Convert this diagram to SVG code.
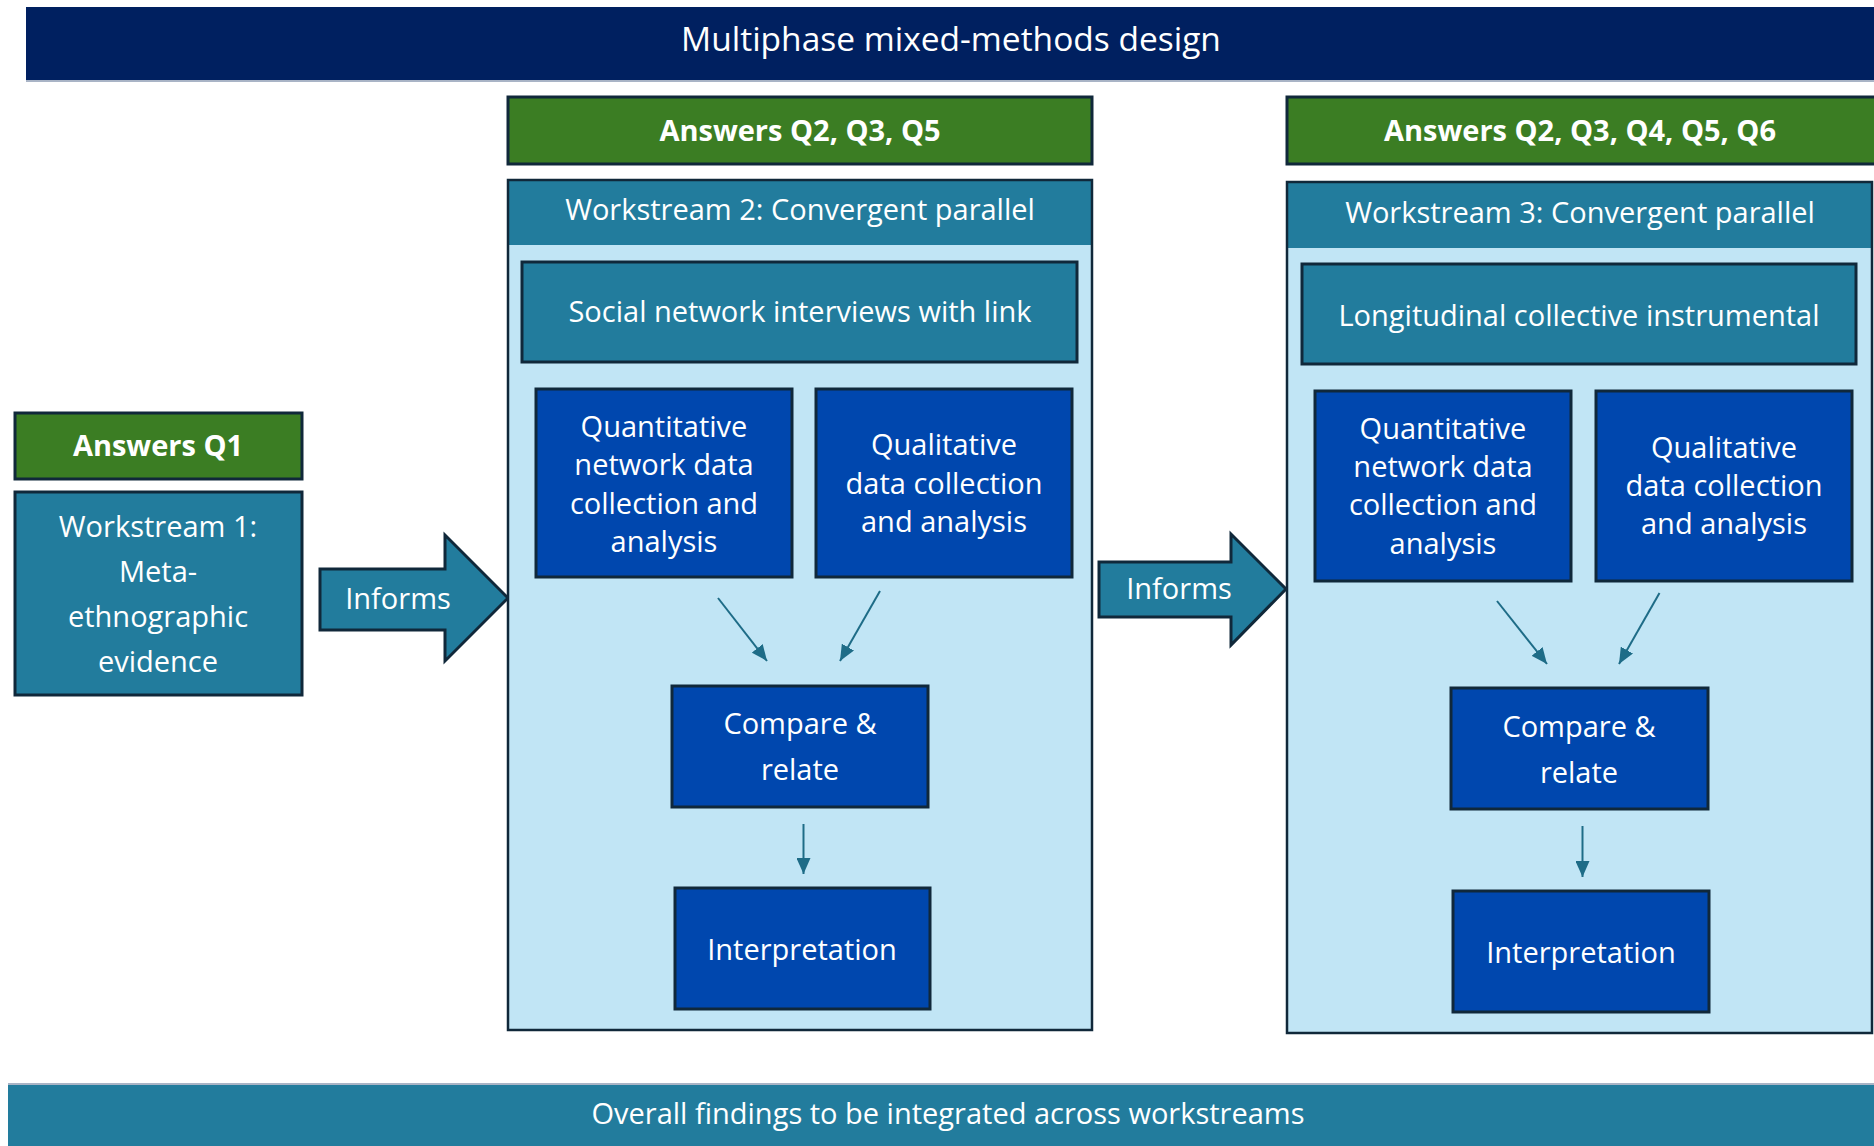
<svg xmlns="http://www.w3.org/2000/svg" width="1874" height="1146" viewBox="0 0 1874 1146">
<style>
text{font-family:"Open Sans","Noto Sans","Liberation Sans",sans-serif;fill:#ffffff;text-anchor:middle;font-size:29px}
.title{font-size:33.5px}
.ans{font-weight:bold;font-size:29px}
.navy{fill:#002060}
.green{fill:#3B7D23;stroke:#10283A;stroke-width:3}
.teal{fill:#227C9D;stroke:#10283A;stroke-width:3}
.blue{fill:#0047AE;stroke:#10283A;stroke-width:3}
.cont{fill:#C1E5F5}
.contb{fill:none;stroke:#10283A;stroke-width:2.5}
.hdr{fill:#227C9D}
.conn line{stroke:#1E6C87;stroke-width:2}
</style>
<defs>
<marker id="ah" markerUnits="userSpaceOnUse" markerWidth="16" markerHeight="14" refX="16" refY="7" orient="auto">
<path d="M0,0 L16,7 L0,14 z" fill="#1E6C87"/>
</marker>
</defs>
<rect width="1874" height="1146" fill="#ffffff"/>

<g id="title">
<rect class="navy" x="26" y="7" width="1848" height="74"/>
<line x1="26" y1="81" x2="1874" y2="81" stroke="#A9B4C6" stroke-width="2"/>
<text class="title" x="951" y="51">Multiphase mixed-methods design</text>
</g>

<g id="answers-q1">
<rect class="green" x="15" y="413" width="287" height="66"/>
<text class="ans" x="158" y="456">Answers Q1</text>
</g>

<g id="workstream1">
<rect class="teal" x="15" y="492" width="287" height="203"/>
<text x="158" y="537">Workstream 1:</text>
<text x="158" y="582">Meta-</text>
<text x="158" y="627">ethnographic</text>
<text x="158" y="672">evidence</text>
</g>

<g id="informs1">
<polygon class="teal" points="320,569 445,569 445,535 508,598 445,661 445,630 320,630"/>
<text x="398" y="609">Informs</text>
</g>

<g id="answers-ws2">
<rect class="green" x="508" y="97" width="584" height="67"/>
<text class="ans" x="800" y="141">Answers Q2, Q3, Q5</text>
</g>

<g id="workstream2">
<rect class="cont" x="508" y="180" width="584" height="850"/>
<rect class="hdr" x="508" y="180" width="584" height="65"/>
<rect class="contb" x="508" y="180" width="584" height="850"/>
<text x="800" y="220">Workstream 2: Convergent parallel</text>
</g>

<g id="ws2-social">
<rect class="teal" x="522" y="262" width="555" height="100"/>
<text x="800" y="322">Social network interviews with link</text>
</g>

<g id="ws2-quant">
<rect class="blue" x="536" y="389" width="256" height="188"/>
<text x="664" y="437">Quantitative</text>
<text x="664" y="475">network data</text>
<text x="664" y="514">collection and</text>
<text x="664" y="552">analysis</text>
</g>

<g id="ws2-qual">
<rect class="blue" x="816" y="389" width="256" height="188"/>
<text x="944" y="455">Qualitative</text>
<text x="944" y="494">data collection</text>
<text x="944" y="532">and analysis</text>
</g>

<g id="ws2-compare">
<rect class="blue" x="672" y="686" width="256" height="121"/>
<text x="800" y="734">Compare &amp;</text>
<text x="800" y="780">relate</text>
</g>

<g id="ws2-interp">
<rect class="blue" x="675" y="888" width="255" height="121"/>
<text x="802" y="960">Interpretation</text>
</g>

<g id="informs2">
<polygon class="teal" points="1099,562 1231,562 1231,534 1286,589 1231,645 1231,617 1099,617"/>
<text x="1179" y="599">Informs</text>
</g>

<g id="answers-ws3">
<rect class="green" x="1287" y="97" width="590" height="67"/>
<text class="ans" x="1580" y="141">Answers Q2, Q3, Q4, Q5, Q6</text>
</g>

<g id="workstream3">
<rect class="cont" x="1287" y="182" width="585" height="851"/>
<rect class="hdr" x="1287" y="182" width="585" height="66"/>
<rect class="contb" x="1287" y="182" width="585" height="851"/>
<text x="1580" y="223">Workstream 3: Convergent parallel</text>
</g>

<g id="ws3-long">
<rect class="teal" x="1302" y="264" width="554" height="100"/>
<text x="1579" y="326">Longitudinal collective instrumental</text>
</g>

<g id="ws3-quant">
<rect class="blue" x="1315" y="391" width="256" height="190"/>
<text x="1443" y="439">Quantitative</text>
<text x="1443" y="477">network data</text>
<text x="1443" y="515">collection and</text>
<text x="1443" y="554">analysis</text>
</g>

<g id="ws3-qual">
<rect class="blue" x="1596" y="391" width="256" height="190"/>
<text x="1724" y="458">Qualitative</text>
<text x="1724" y="496">data collection</text>
<text x="1724" y="534">and analysis</text>
</g>

<g id="ws3-compare">
<rect class="blue" x="1451" y="688" width="257" height="121"/>
<text x="1579" y="737">Compare &amp;</text>
<text x="1579" y="783">relate</text>
</g>

<g id="ws3-interp">
<rect class="blue" x="1453" y="891" width="256" height="121"/>
<text x="1581" y="963">Interpretation</text>
</g>

<g id="connectors" class="conn">
<line x1="718" y1="598" x2="767" y2="661" marker-end="url(#ah)"/>
<line x1="880" y1="591" x2="840" y2="661" marker-end="url(#ah)"/>
<line x1="803.5" y1="824" x2="803.5" y2="874" marker-end="url(#ah)"/>
<line x1="1497" y1="601" x2="1547" y2="664" marker-end="url(#ah)"/>
<line x1="1659.5" y1="593" x2="1619" y2="664" marker-end="url(#ah)"/>
<line x1="1582.5" y1="826" x2="1582.5" y2="877" marker-end="url(#ah)"/>
</g>

<g id="overall">
<rect class="hdr" x="8" y="1084" width="1866" height="62"/>
<line x1="8" y1="1084" x2="1874" y2="1084" stroke="#A9B4C6" stroke-width="2"/>
<text x="948" y="1124">Overall findings to be integrated across workstreams</text>
</g>
</svg>
